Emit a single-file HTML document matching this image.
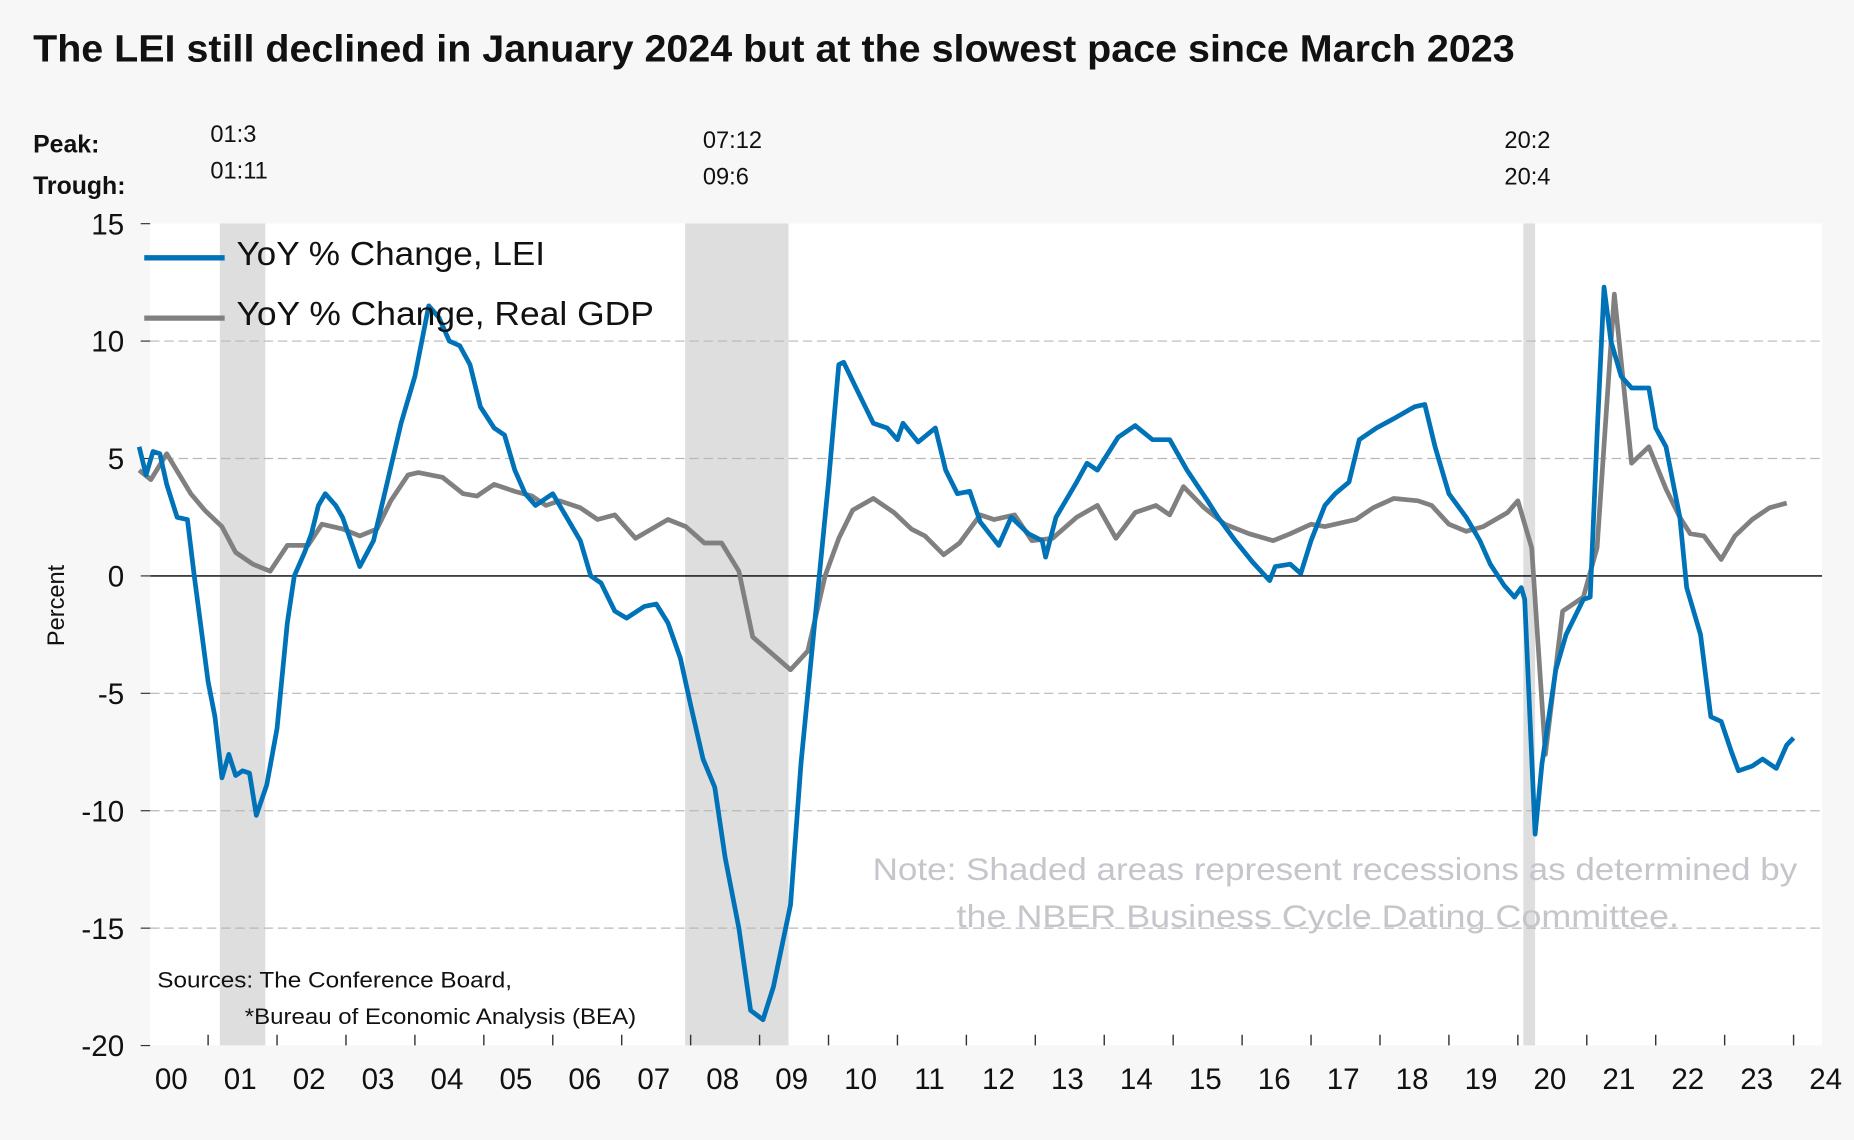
<!DOCTYPE html>
<html><head><meta charset="utf-8">
<style>
html,body{margin:0;padding:0;background:#f7f7f7;}
svg{display:block;}
text{font-family:"Liberation Sans",sans-serif;}
</style></head>
<body>
<svg id="chart" width="1854" height="1140" viewBox="0 0 1568 964" preserveAspectRatio="none" xmlns="http://www.w3.org/2000/svg">
<rect x="0" y="0" width="1568" height="964" fill="#f7f7f7"/>
<text x="28" y="52" font-size="32" font-weight="bold" fill="#111" textLength="1253" lengthAdjust="spacingAndGlyphs">The LEI still declined in January 2024 but at the slowest pace since March 2023</text>
<text x="28" y="129" font-size="21" font-weight="bold" fill="#111">Peak:</text>
<text x="28" y="164" font-size="21" font-weight="bold" fill="#111">Trough:</text>
<rect x="127" y="189" width="1414" height="695" fill="#ffffff"/>
<g id="shading"></g>
<g id="grid"></g>
<g id="axes"></g>
<g id="series"></g>
<g>
<line x1="122" y1="218" x2="190" y2="218" stroke="#0072b8" stroke-width="4.5"/>
<text x="200" y="224" font-size="28" fill="#111" textLength="261" lengthAdjust="spacingAndGlyphs">YoY % Change, LEI</text>
<line x1="122" y1="269" x2="190" y2="269" stroke="#808080" stroke-width="4.5"/>
<text x="200" y="275" font-size="28" fill="#111" textLength="353" lengthAdjust="spacingAndGlyphs">YoY % Change, Real GDP</text>
</g>
<text x="738" y="744" font-size="27" fill="#c5c5cb" textLength="782" lengthAdjust="spacingAndGlyphs">Note: Shaded areas represent recessions as determined by</text>
<text x="809" y="784" font-size="27" fill="#c5c5cb" textLength="611" lengthAdjust="spacingAndGlyphs">the NBER Business Cycle Dating Committee.</text>
<text x="133" y="835" font-size="19" fill="#111" textLength="300" lengthAdjust="spacingAndGlyphs">Sources: The Conference Board,</text>
<text x="207" y="866" font-size="19" fill="#111" textLength="331" lengthAdjust="spacingAndGlyphs">*Bureau of Economic Analysis (BEA)</text>
<text transform="translate(54,512) rotate(-90)" font-size="20" fill="#111" text-anchor="middle">Percent</text>
</svg>
<script>
const leiDates=[2000.0,2000.1,2000.2,2000.3,2000.4,2000.55,2000.7,2000.8,2001.0,2001.1,2001.2,2001.3,2001.4,2001.5,2001.6,2001.7,2001.85,2002.0,2002.15,2002.25,2002.4,2002.5,2002.6,2002.7,2002.85,2002.95,2003.2,2003.4,2003.6,2003.8,2004.0,2004.2,2004.35,2004.5,2004.65,2004.8,2004.95,2005.15,2005.3,2005.45,2005.6,2005.75,2006.0,2006.2,2006.4,2006.55,2006.7,2006.9,2007.07,2007.33,2007.5,2007.67,2007.85,2008.0,2008.18,2008.35,2008.5,2008.7,2008.87,2009.05,2009.2,2009.45,2009.6,2009.8,2010.0,2010.15,2010.22,2010.4,2010.65,2010.85,2011.0,2011.08,2011.3,2011.55,2011.7,2011.87,2012.05,2012.2,2012.47,2012.65,2012.9,2013.1,2013.15,2013.3,2013.6,2013.75,2013.9,2014.2,2014.45,2014.7,2014.95,2015.2,2015.5,2015.65,2015.9,2016.15,2016.4,2016.48,2016.7,2016.85,2017.0,2017.2,2017.35,2017.55,2017.7,2017.95,2018.2,2018.5,2018.65,2018.8,2019.0,2019.25,2019.45,2019.6,2019.8,2019.95,2020.05,2020.1,2020.25,2020.35,2020.55,2020.7,2020.95,2021.05,2021.15,2021.25,2021.35,2021.5,2021.65,2021.9,2022.0,2022.15,2022.35,2022.45,2022.65,2022.8,2022.95,2023.1,2023.2,2023.4,2023.55,2023.75,2023.9,2024.0];
const leiValues=[5.5,4.3,5.3,5.2,3.9,2.5,2.4,0,-4.5,-6,-8.6,-7.6,-8.5,-8.3,-8.4,-10.2,-8.9,-6.5,-2,0,1,1.8,3,3.5,3,2.5,0.4,1.5,4,6.5,8.5,11.5,11,10,9.8,9,7.2,6.3,6,4.5,3.5,3,3.5,2.5,1.5,0,-0.3,-1.5,-1.8,-1.3,-1.2,-2,-3.5,-5.5,-7.8,-9,-12,-15,-18.5,-18.9,-17.5,-14,-8,-2,4,9,9.1,8,6.5,6.3,5.8,6.5,5.7,6.3,4.5,3.5,3.6,2.3,1.3,2.5,1.8,1.5,0.8,2.5,4,4.8,4.5,5.9,6.4,5.8,5.8,4.5,3.2,2.5,1.5,0.6,-0.2,0.4,0.5,0.1,1.5,3,3.5,4,5.8,6.3,6.7,7.2,7.3,5.5,3.5,2.5,1.5,0.5,-0.4,-0.9,-0.5,-1,-11,-8,-4,-2.5,-1,-0.9,6,12.3,10,8.5,8,8,6.3,5.5,2.5,-0.5,-2.5,-6,-6.2,-7.5,-8.3,-8.1,-7.8,-8.2,-7.2,-6.9];
const gdpDates=[2000.0,2000.17,2000.4,2000.75,2000.95,2001.2,2001.4,2001.65,2001.9,2002.15,2002.45,2002.65,2002.95,2003.2,2003.45,2003.65,2003.9,2004.05,2004.4,2004.7,2004.9,2005.15,2005.45,2005.7,2005.9,2006.1,2006.4,2006.65,2006.9,2007.2,2007.67,2007.93,2008.2,2008.45,2008.7,2008.9,2009.45,2009.7,2009.95,2010.15,2010.35,2010.65,2010.95,2011.2,2011.4,2011.67,2011.9,2012.2,2012.4,2012.7,2012.95,2013.25,2013.6,2013.9,2014.17,2014.45,2014.75,2014.95,2015.15,2015.45,2015.75,2016.1,2016.45,2016.7,2017.0,2017.2,2017.65,2017.9,2018.2,2018.55,2018.75,2019.0,2019.25,2019.5,2019.85,2020.0,2020.2,2020.4,2020.65,2020.95,2021.15,2021.4,2021.65,2021.9,2022.15,2022.35,2022.5,2022.7,2022.95,2023.15,2023.4,2023.65,2023.9];
const gdpValues=[4.5,4.1,5.2,3.5,2.8,2.1,1,0.5,0.2,1.3,1.3,2.2,2.0,1.7,2.0,3.2,4.3,4.4,4.2,3.5,3.4,3.9,3.6,3.4,3.0,3.2,2.9,2.4,2.6,1.6,2.4,2.1,1.4,1.4,0.2,-2.6,-4.0,-3.2,0,1.6,2.8,3.3,2.7,2.0,1.7,0.9,1.4,2.6,2.4,2.6,1.5,1.6,2.5,3.0,1.6,2.7,3.0,2.6,3.8,2.9,2.2,1.8,1.5,1.8,2.2,2.1,2.4,2.9,3.3,3.2,3.0,2.2,1.9,2.1,2.7,3.2,1.2,-7.6,-1.5,-0.9,1.2,12.0,4.8,5.5,3.7,2.5,1.8,1.7,0.7,1.7,2.4,2.9,3.1];
const yTicks=[15,10,5,0,-5,-10,-15,-20];
const yearLabels=["00","01","02","03","04","05","06","07","08","09","10","11","12","13","14","15","16","17","18","19","20","21","22","23","24"];
const recessionStarts=[2001.17,2007.92,2020.08];
const recessionEnds=[2001.83,2009.42,2020.25];
const recessionPeaks=["01:3","07:12","20:2"];
const recessionTroughs=["01:11","09:6","20:4"];

const NS="http://www.w3.org/2000/svg";
const X0=127,X1=1541,Y0=189,Y1=884;
const labelOffsets=[-8,15,-16];
function xs(t){return 176+(t-2001)*58.3;}
function ys(v){return 487-(v)*(695/35);}
function mk(tag,attrs,parent){const e=document.createElementNS(NS,tag);for(const k in attrs)e.setAttribute(k,attrs[k]);document.getElementById(parent).appendChild(e);return e;}

recessionStarts.forEach((s,i)=>{
  const r=mk('rect',{x:xs(s),y:Y0,width:xs(recessionEnds[i])-xs(s),height:Y1-Y0,fill:'#dedede'},'shading');
  
  
  const top=(i===0)?120:125;
  const lx=xs(s)+labelOffsets[i];
  const p=mk('text',{x:lx,y:top,'font-size':20,fill:'#111'},'shading');
  p.textContent=recessionPeaks[i];
  
  
  const tr=mk('text',{x:lx,y:top+31,'font-size':20,fill:'#111'},'shading');
  tr.textContent=recessionTroughs[i];
  
  
});

yTicks.forEach(v=>{
  const y=ys(v);
  if(v!==15&&v!==-20){
    const g=mk('line',{x1:X0,x2:X1,y1:y,y2:y,stroke:v===0?'#000':'#b8b8b8','stroke-width':v===0?1.2:1,'stroke-dasharray':v===0?'none':'8,4'},'grid');
    
    
  }
  const tk=mk('line',{x1:119,x2:127,y1:y,y2:y,stroke:'#333','stroke-width':1},'axes');
  
  
  const t=mk('text',{x:105,y:y+9,'font-size':25,fill:'#111','text-anchor':'end'},'axes');
  t.textContent=String(v);
  
  
});

yearLabels.forEach((lab,i)=>{
  const yr=2000+i;
  if(i>0){
    const tk=mk('line',{x1:xs(yr),x2:xs(yr),y1:Y1-9,y2:Y1,stroke:'#333','stroke-width':1.2},'axes');
    
    
  }
  const t=mk('text',{x:xs(yr+0.5)-2,y:921,'font-size':25,fill:'#111','text-anchor':'middle'},'axes');
  t.textContent=lab;
  
  
});

function path(dates,vals){return dates.map((d,i)=>(i?'L':'M')+xs(d).toFixed(1)+','+ys(vals[i]).toFixed(1)).join(' ');}
const gdp=mk('path',{d:path(gdpDates,gdpValues),fill:'none',stroke:'#808080','stroke-width':4,'stroke-linejoin':'round'},'series');


const lei=mk('path',{d:path(leiDates,leiValues),fill:'none',stroke:'#0072b8','stroke-width':4,'stroke-linejoin':'round'},'series');


</script>
</body></html>
